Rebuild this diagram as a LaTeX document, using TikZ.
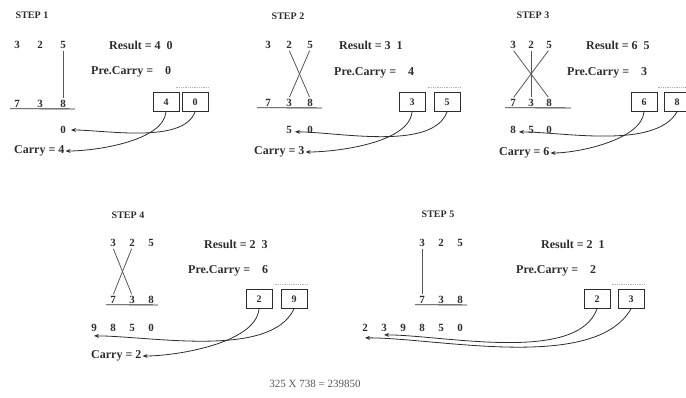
\documentclass[tikz,border=0pt]{standalone}
\usepackage{fontspec}
\setmainfont{Liberation Serif}
\usetikzlibrary{arrows.meta,calc,positioning}
\definecolor{InkGray}{RGB}{45,45,45}

\tikzset{
  steptitle/.style={font=\fontsize{10}{11}\selectfont\bfseries, text=InkGray, inner sep=1pt},
  digit/.style={font=\fontsize{11}{12}\selectfont\bfseries, text=InkGray, inner sep=1pt},
  infotext/.style={font=\fontsize{12}{13}\selectfont\bfseries, text=InkGray, inner sep=1pt, anchor=west},
  digitbox/.style={draw=InkGray, thick, minimum width=26pt, minimum height=19pt, inner sep=0pt,
    font=\fontsize{10}{11}\selectfont\bfseries, text=InkGray},
  crossline/.style={InkGray!80, thick, shorten <=1pt, shorten >=1pt},
  flow/.style={InkGray, thick, -{Stealth[length=5pt,width=4pt]}, looseness=0.7},
  overmark/.style={gray!60, densely dotted, thick}
}

\begin{document}
\begin{tikzpicture}[x=1pt, y=-1pt]
  \useasboundingbox (0,0) rectangle (686,398);

  % ---- Step 1 ----
  \node[steptitle] (s1title) at (32,15) {STEP 1};
  \foreach \d [count=\i] in {3,2,5} \node[digit] (s1t\i) at ({-6+23*\i},45) {\d};
  \foreach \d [count=\i] in {7,3,8} \node[digit] (s1b\i) at ({-6+23*\i},104) {\d};
  \draw[InkGray, thick] ([xshift=-3pt]s1b1.south west) -- ([xshift=8pt]s1b3.south east);
  \draw[crossline] (s1t3.south) -- (s1b3.north);
  \node[infotext] (s1res) at (108,45) {Result = 4\enspace 0};
  \node[infotext] (s1pre) at (90,72) {Pre.Carry =\quad 0};
  \node[digitbox] (s1l) at (166,102) {4};
  \node[digitbox] (s1r) at (195,102) {0};
  \draw[overmark] ([xshift=-6pt,yshift=5pt]s1r.north west) -- ([yshift=5pt]s1r.north east);
  \node[digit] (s1o1) at (63,130) {0};
  \node[infotext] (s1carry) at (13,151) {Carry = 4};
  \draw[flow] (s1r.south) to[out=-110, in=0] ([xshift=4pt]s1o1.east);
  \draw[flow] (s1l.south) to[out=-95, in=0] (s1carry.east);

  % ---- Step 2 ----
  \node[steptitle] (s2title) at (288,16) {STEP 2};
  \foreach \d [count=\i] in {3,2,5} \node[digit] (s2t\i) at ({247+21*\i},45) {\d};
  \foreach \d [count=\i] in {7,3,8} \node[digit] (s2b\i) at ({247+21*\i},103) {\d};
  \draw[InkGray, thick] ([xshift=-7pt]s2b1.south west) -- ([xshift=8pt]s2b3.south east);
  \draw[crossline] (s2t2.south) -- (s2b3.north);
  \draw[crossline] (s2t3.south) -- (s2b2.north);
  \node[infotext] (s2res) at (338,45) {Result = 3\enspace 1};
  \node[infotext] (s2pre) at (333,73) {Pre.Carry =\quad 4};
  \node[digitbox] (s2l) at (412,102) {3};
  \node[digitbox] (s2r) at (447,102) {5};
  \draw[overmark] ([xshift=-6pt,yshift=5pt]s2r.north west) -- ([yshift=5pt]s2r.north east);
  \foreach \d [count=\i from 2] in {5,0} \node[digit] (s2o\i) at ({247+21*\i},130) {\d};
  \node[infotext] (s2carry) at (253,152) {Carry = 3};
  \draw[flow] (s2r.south) to[out=-110, in=0] ([xshift=2pt,yshift=3pt]s2o2.south east);
  \draw[flow] (s2l.south) to[out=-95, in=0] (s2carry.east);

  % ---- Step 3 ----
  \node[steptitle] (s3title) at (533,15) {STEP 3};
  \foreach \d [count=\i] in {3,2,5} \node[digit] (s3t\i) at ({495+18*\i},45) {\d};
  \foreach \d [count=\i] in {7,3,8} \node[digit] (s3b\i) at ({495+18*\i},103) {\d};
  \draw[InkGray, thick] ([xshift=-4pt]s3b1.south west) -- ([xshift=18pt]s3b3.south east);
  \draw[crossline] (s3t1.south) -- (s3b3.north);
  \draw[crossline] (s3t3.south) -- (s3b1.north);
  \draw[crossline] (s3t2.south) -- (s3b2.north);
  \node[infotext] (s3res) at (585,45) {Result = 6\enspace 5};
  \node[infotext] (s3pre) at (566,73) {Pre.Carry =\quad 3};
  \node[digitbox] (s3l) at (644,102) {6};
  \node[digitbox] (s3r) at (677,102) {8};
  \draw[overmark] ([xshift=-6pt,yshift=5pt]s3r.north west) -- ([yshift=5pt]s3r.north east);
  \foreach \d [count=\i] in {8,5,0} \node[digit] (s3o\i) at ({495+18*\i},130) {\d};
  \node[infotext] (s3carry) at (498,153) {Carry = 6};
  \draw[flow] (s3r.south) to[out=-120, in=0] ([xshift=2pt,yshift=3pt]s3o1.south east);
  \draw[flow] (s3l.south) to[out=-95, in=0] (s3carry.east);

  % ---- Step 4 ----
  \node[steptitle] (s4title) at (128,215) {STEP 4};
  \foreach \d [count=\i] in {3,2,5} \node[digit] (s4t\i) at ({94+19*\i},243) {\d};
  \foreach \d [count=\i] in {7,3,8} \node[digit] (s4b\i) at ({94+19*\i},300) {\d};
  \draw[InkGray, thick] ([xshift=-3pt]s4b1.south west) -- ([xshift=3pt]s4b3.south east);
  \draw[crossline] (s4t1.south) -- (s4b2.north);
  \draw[crossline] (s4t2.south) -- (s4b1.north);
  \node[infotext] (s4res) at (203,244) {Result = 2\enspace 3};
  \node[infotext] (s4pre) at (187,271) {Pre.Carry =\quad 6};
  \node[digitbox] (s4l) at (259,299) {2};
  \node[digitbox] (s4r) at (294,299) {9};
  \draw[overmark] ([xshift=-6pt,yshift=5pt]s4r.north west) -- ([yshift=5pt]s4r.north east);
  \foreach \d [count=\i from 0] in {9,8,5,0} \node[digit] (s4o\i) at ({94+19*\i},328) {\d};
  \node[infotext] (s4carry) at (90,356) {Carry = 2};
  \draw[flow] (s4r.south) to[out=-115, in=0] ([yshift=-3pt]s4o0.south);
  \draw[flow] (s4l.south) to[out=-95, in=0] (s4carry.east);

  % ---- Step 5 ----
  \node[steptitle] (s5title) at (438,214) {STEP 5};
  \foreach \d [count=\i] in {3,2,5} \node[digit] (s5t\i) at ({403+19*\i},243) {\d};
  \foreach \d [count=\i] in {7,3,8} \node[digit] (s5b\i) at ({403+19*\i},300) {\d};
  \draw[InkGray, thick] ([xshift=-3pt]s5b1.south west) -- ([xshift=3pt]s5b3.south east);
  \draw[crossline] (s5t1.south) -- (s5b1.north);
  \node[infotext] (s5res) at (540,244) {Result = 2\enspace 1};
  \node[infotext] (s5pre) at (515,271) {Pre.Carry =\quad 2};
  \node[digitbox] (s5l) at (597,299) {2};
  \node[digitbox] (s5r) at (631,299) {3};
  \draw[overmark] ([xshift=-6pt,yshift=5pt]s5r.north west) -- ([yshift=5pt]s5r.north east);
  \foreach \d [count=\i from -2] in {2,3,9,8,5,0} \node[digit] (s5o\i) at ({403+19*\i},328) {\d};
  \draw[flow] (s5r.south) to[out=-120, in=0] ([yshift=-5pt]s5o-2.south);
  \draw[flow] (s5l.south) to[out=-110, in=0] ([yshift=-2pt]s5o-1.south);

  % Final product
  \node[font=\fontsize{11}{12}\selectfont, text=InkGray!80] (prod) at (315,384) {325 X 738 = 239850};
\end{tikzpicture}
\end{document}
